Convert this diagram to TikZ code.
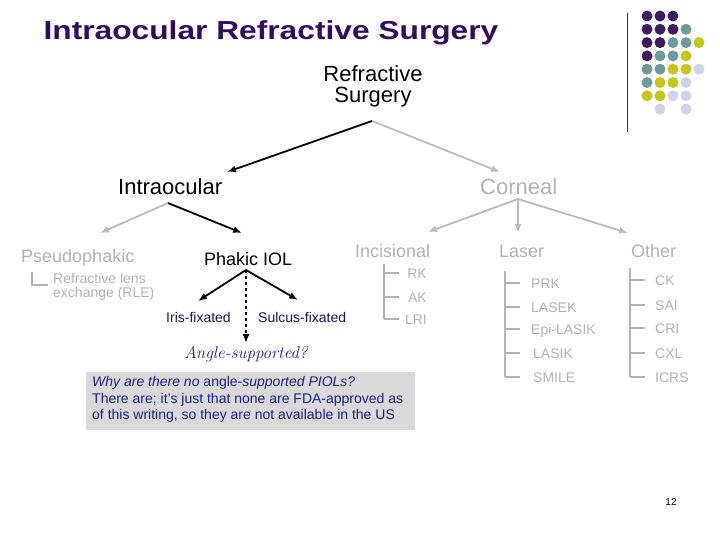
\documentclass[tikz,border=0pt]{standalone}
\usepackage{fontspec}
\usepackage{graphicx}
\setsansfont{Liberation Sans}
\usetikzlibrary{arrows.meta}
\definecolor{ttl}{HTML}{330A5C}
\definecolor{dpur}{HTML}{3E1B5E}
\definecolor{dteal}{HTML}{6E9A9A}
\definecolor{dyel}{HTML}{C8C41E}
\definecolor{dlav}{HTML}{D2D2E6}
\definecolor{lg}{HTML}{BBBBBB}
\definecolor{lgt}{HTML}{B2B2B2}
\definecolor{navy}{HTML}{1E1E8A}
\definecolor{boxg}{HTML}{D9D9D9}
\begin{document}
\begin{tikzpicture}[x=1pt,y=-1pt,
  txt/.style={inner sep=0pt, font=\sffamily, anchor=base west},
  big/.style={txt, font=\sffamily\fontsize{22}{26}\selectfont},
  mid/.style={txt, font=\sffamily\fontsize{18}{22}\selectfont},
  sml/.style={txt, font=\sffamily\fontsize{14}{17}\selectfont},
  blk/.style={draw=black, line width=1.8pt, -{Latex[length=9pt,width=7pt]}},
  gry/.style={draw=lg, line width=1.8pt, -{Latex[length=9pt,width=7pt]}},
  treeline/.style={draw=black!30, line width=1.3pt},
  dot/.style={circle, inner sep=0pt, minimum size=11pt}
]
\useasboundingbox[fill=white] (0,0) rectangle (720,540);

% title
\node[inner sep=0pt, anchor=base, text=ttl] (title) at (271,40)
  {\scalebox{1.22}[1]{\sffamily\bfseries\fontsize{26}{30}\selectfont Intraocular Refractive Surgery}};

% decoration
\coordinate (vtop) at (627,13);
\coordinate (vbot) at (627,132);
\draw[line width=1pt, black!80] (vtop) -- (vbot);
\foreach \c/\r/\col in {0/0/dpur,1/0/dpur,2/0/dpur,
  0/1/dpur,1/1/dpur,2/1/dpur,3/1/dteal,
  0/2/dpur,1/2/dpur,2/2/dteal,3/2/dteal,4/2/dyel,
  0/3/dpur,1/3/dteal,2/3/dteal,3/3/dyel,
  0/4/dteal,1/4/dteal,2/4/dyel,3/4/dyel,4/4/dlav,
  0/5/dteal,1/5/dyel,2/5/dyel,3/5/dlav,
  0/6/dyel,1/6/dyel,2/6/dlav,3/6/dlav,
  1/7/dlav,3/7/dlav}
  \node[dot, fill=\col] (d\c\r) at ({647+13*\c},{16+13.3*\r}) {};

% top
\node[big, anchor=base] (rsA) at (373,82) {Refractive};
\node[big, anchor=base] (rsB) at (373,103) {Surgery};
\coordinate (rsapex) at (372,121);

\node[big] (intra) at (118,195) {Intraocular};
\node[big, text=lgt] (corneal) at (480,195) {Corneal};
\coordinate (intraT) at (227,172);
\coordinate (cornT) at (500,172);
\draw[blk] (rsapex) -- (intraT);
\draw[gry] (rsapex) -- (cornT);

% intraocular branch
\coordinate (intraB) at (168,203);
\node[mid, text=lgt] (pseudo) at (21,262) {Pseudophakic};
\node[mid] (phakic) at (204,265) {Phakic IOL};
\coordinate (pseudoT) at (100,233);
\coordinate (phakicT) at (242,233);
\draw[gry] (intraB) -- (pseudoT);
\draw[blk] (intraB) -- (phakicT);

\node[sml, text=lgt] (rle1) at (53,283) {Refractive lens};
\node[sml, text=lgt] (rle2) at (53,297) {exchange (RLE)};
\coordinate (rleA) at (32,272);
\coordinate (rleB) at (32,285);
\coordinate (rleC) at (48,285);
\draw[treeline] (rleA) -- (rleB) -- (rleC);

\coordinate (phakicB) at (246,270);
\node[sml, text=navy!70!black] (iris) at (166,322) {Iris-fixated};
\node[sml, text=navy!70!black] (sulcus) at (258,322) {Sulcus-fixated};
\coordinate (irisT) at (198,301);
\coordinate (sulcusT) at (298,300);
\coordinate (angleT) at (246,343);
\draw[blk] (phakicB) -- (irisT);
\draw[blk] (phakicB) -- (sulcusT);
\draw[blk, dashed, line width=1.5pt] (phakicB) -- (angleT);
\node[inner sep=0pt, anchor=base, text=navy, font=\rmfamily\itshape\fontsize{17}{20}\selectfont] (angle) at (246,358) {Angle-supported?};

% note box
\node[fill=boxg, inner sep=0pt, anchor=north west, minimum width=329pt, minimum height=58pt] (box) at (86,372) {};
\node[sml, text=navy] (n1) at (92,386) {\itshape Why are there no \upshape angle-\itshape supported PIOLs?};
\node[sml, text=navy] (n2) at (92,403) {There are; it's just that none are FDA-approved as};
\node[sml, text=navy] (n3) at (92,419) {of this writing, so they are not available in the US};

% corneal branch
\coordinate (cornB) at (518,199);
\node[mid, text=lgt] (incis) at (355,258) {Incisional};
\node[mid, text=lgt] (laser) at (499,258) {Laser};
\node[mid, text=lgt] (other) at (631,258) {Other};
\coordinate (incisT) at (428,232);
\coordinate (laserT) at (518,233);
\coordinate (otherT) at (628,233);
\draw[gry] (cornB) -- (incisT);
\draw[gry] (cornB) -- (laserT);
\draw[gry] (cornB) -- (otherT);

% incisional tree
\coordinate (iv0) at (384,264);
\coordinate (iv1) at (384,319);
\draw[treeline] (iv0) -- (iv1);
\foreach \y/\t [count=\i] in {273/RK,297/AK,319/LRI}{
  \coordinate (it\i) at (384,\y);
  \coordinate (ie\i) at (399,\y);
  \node[sml, text=lgt, anchor=base east] (il\i) at (427,\y+5) {\t};
  \draw[treeline] (it\i) -- (ie\i);
}

% laser tree
\coordinate (lv0) at (505,271);
\coordinate (lv1) at (505,377);
\draw[treeline] (lv0) -- (lv1);
\foreach \y/\x/\t [count=\i] in {283/531/PRK,307/531/LASEK,329/531/Epi-LASIK,353/533/LASIK,377/533/SMILE}{
  \coordinate (lt\i) at (505,\y);
  \coordinate (le\i) at (520,\y);
  \node[sml, text=lgt] (ll\i) at (\x,\y+5) {\t};
  \draw[treeline] (lt\i) -- (le\i);
}

% other tree
\coordinate (ov0) at (630,268);
\coordinate (ov1) at (630,377);
\draw[treeline] (ov0) -- (ov1);
\foreach \y/\t [count=\i] in {280/CK,305/SAI,328/CRI,353/CXL,377/ICRS}{
  \coordinate (ot\i) at (630,\y);
  \coordinate (oe\i) at (645,\y);
  \node[sml, text=lgt] (ol\i) at (655,\y+5) {\t};
  \draw[treeline] (ot\i) -- (oe\i);
}

% page number
\node[inner sep=0pt, anchor=base, font=\sffamily\fontsize{10}{12}\selectfont] (pg) at (671,505) {12};
\end{tikzpicture}
\end{document}
